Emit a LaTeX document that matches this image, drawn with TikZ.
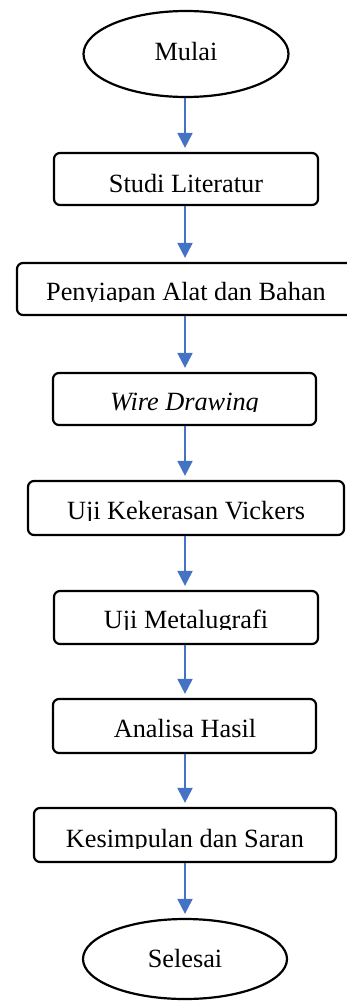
\documentclass[tikz,border=0pt]{standalone}
\usepackage{fontspec}
\setmainfont{Liberation Serif}
\usetikzlibrary{shapes.geometric,arrows.meta}
\definecolor{arrowblue}{HTML}{4472C4}
\begin{document}
\begin{tikzpicture}[x=1pt,y=-1pt,
  box/.style={draw=black, line width=2.2pt, rounded corners=6pt, inner sep=0pt},
  oval/.style={draw=black, ellipse, line width=2.2pt, inner sep=0pt, font=\fontsize{26.3}{30}\selectfont},
  txt/.style={inner sep=0pt, anchor=base, font=\fontsize{26.3}{30}\selectfont},
  flow/.style={draw=arrowblue, line width=2pt, -{Triangle[width=15pt,length=15pt]}, shorten >=4pt}]
\useasboundingbox (0,0) rectangle (346,1001);

\node[oval, minimum width=205pt, minimum height=86pt, text height=18pt, text depth=6pt] (start) at (186,54) {Mulai};

\node[box, minimum width=264pt, minimum height=52pt] (b1) at (186,179) {};
\node[box, minimum width=338pt, minimum height=52pt] (b2) at (186,289) {};
\node[box, minimum width=263pt, minimum height=52pt] (b3) at (184.5,399) {};
\node[box, minimum width=316pt, minimum height=54pt] (b4) at (186,508) {};
\node[box, minimum width=264pt, minimum height=53pt] (b5) at (186,617.5) {};
\node[box, minimum width=263pt, minimum height=54pt] (b6) at (184.5,726) {};
\node[box, minimum width=302pt, minimum height=54pt] (b7) at (185,835) {};

\node[oval, minimum width=204pt, minimum height=80pt, text height=18pt, text depth=2pt] (end) at (185,959) {Selesai};

\begin{scope}\clip (0,140) rectangle (346,193.8);
\node[txt] (t1) at (186,192) {Studi Literatur};\end{scope}
\begin{scope}\clip (0,250) rectangle (346,301.8);
\node[txt] (t2) at (186,300) {Penyiapan Alat dan Bahan};\end{scope}
\begin{scope}\clip (0,360) rectangle (346,411.8);
\node[txt] (t3) at (184.5,410) {\itshape Wire Drawing};\end{scope}
\begin{scope}\clip (0,470) rectangle (346,520.8);
\node[txt] (t4) at (186,519) {Uji Kekerasan Vickers};\end{scope}
\begin{scope}\clip (0,580) rectangle (346,629.8);
\node[txt] (t5) at (186,628) {Uji Metalugrafi};\end{scope}
\begin{scope}\clip (0,690) rectangle (346,738.8);
\node[txt] (t6) at (185,737) {Analisa Hasil};\end{scope}
\begin{scope}\clip (0,800) rectangle (346,848.8);
\node[txt] (t7) at (185,847) {Kesimpulan dan Saran};\end{scope}

\coordinate (ax) at (185,0);
\draw[flow] (start.south -| ax) -- (b1.north -| ax);
\draw[flow] (b1.south -| ax) -- (b2.north -| ax);
\draw[flow] (b2.south -| ax) -- (b3.north -| ax);
\draw[flow] (b3.south -| ax) -- (b4.north -| ax);
\draw[flow] (b4.south -| ax) -- (b5.north -| ax);
\draw[flow] (b5.south -| ax) -- (b6.north -| ax);
\draw[flow] (b6.south -| ax) -- (b7.north -| ax);
\draw[flow] (b7.south -| ax) -- (end.north -| ax);
\end{tikzpicture}
\end{document}
